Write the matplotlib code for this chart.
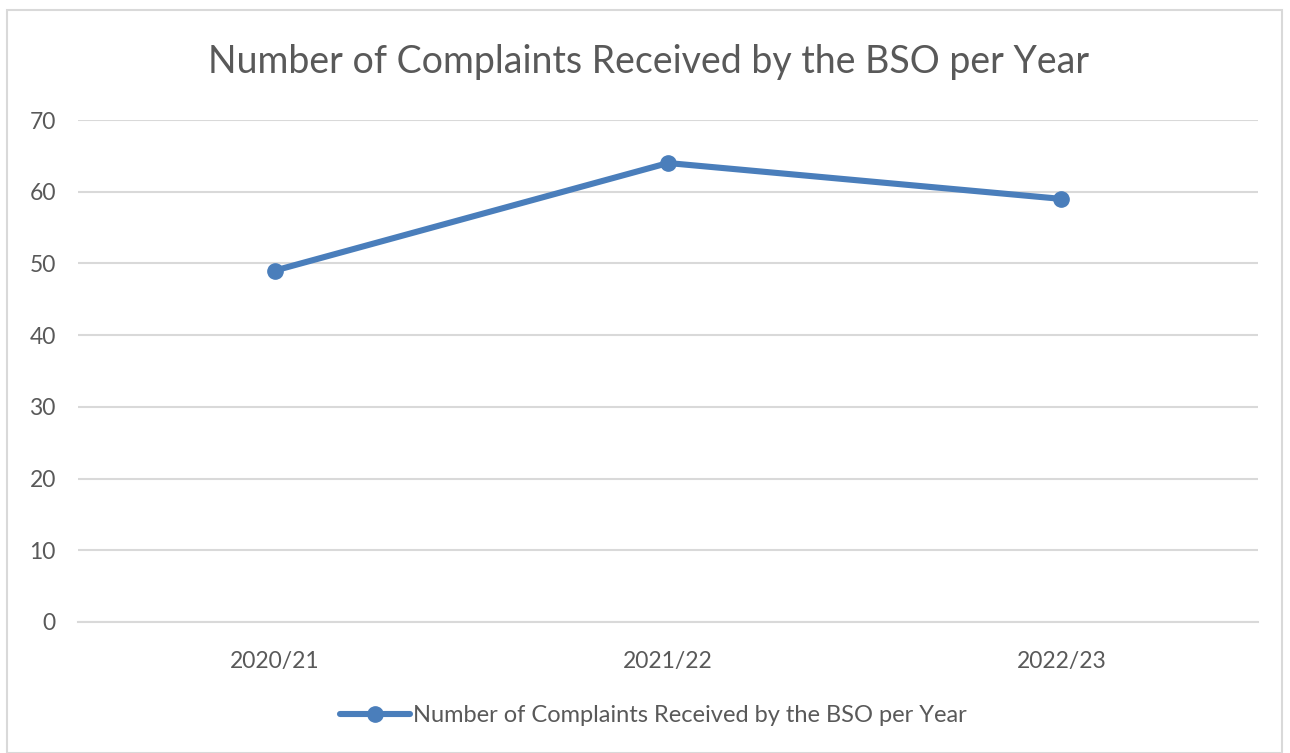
import matplotlib
matplotlib.use("Agg")
import matplotlib.pyplot as plt
from matplotlib.patches import Rectangle

categories = ["2020/21", "2021/22", "2022/23"]
values = [49, 64, 59]
series_name = "Number of Complaints Received by the BSO per Year"
title = "Number of Complaints Received by the BSO per Year"
yticks = [0, 10, 20, 30, 40, 50, 60, 70]

W, H = 1290, 753
fig = plt.figure(figsize=(W / 100, H / 100), dpi=100)
plt.rcParams['font.family'] = ['Lato', 'DejaVu Sans']

# chart border
fig.patches.append(Rectangle((7 / W, 0), (1282 - 7) / W, 1 - 10 / H,
                             transform=fig.transFigure, fill=False,
                             edgecolor="#d9d9d9", linewidth=1.5))

ax = fig.add_axes([78 / W, 1 - 622 / H, (1258 - 78) / W, (622 - 120) / H])
x = list(range(len(categories)))
line_color = "#4a7ebb"
ax.plot(x, values, color=line_color, linewidth=4.4, marker="o", markersize=11,
        solid_capstyle="round", label=series_name)
ax.set_xlim(-0.5, len(categories) - 0.5)
ax.set_ylim(0, 70)
ax.set_yticks(yticks)
ax.set_xticks(x)
ax.set_xticklabels(categories)
ax.grid(axis="y", color="#d9d9d9", linewidth=1.5)
ax.set_axisbelow(True)
for s in ["top", "right", "left"]:
    ax.spines[s].set_visible(False)
ax.spines["bottom"].set_color("#d9d9d9")
ax.spines["bottom"].set_linewidth(1.5)
ax.tick_params(axis="both", length=0, colors="#595959", labelsize=16.5)
ax.tick_params(axis="y", pad=16)
ax.tick_params(axis="x", pad=21)

fig.text(649 / W, 1 - 62 / H, title, ha="center", va="center",
         fontsize=27, color="#595959")

leg = fig.legend(loc="center", bbox_to_anchor=(653 / W, 1 - 716 / H),
                 frameon=False, fontsize=17, handlelength=3.0,
                 handletextpad=0.1, labelcolor="#595959")

fig.savefig("out.png", dpi=100)
